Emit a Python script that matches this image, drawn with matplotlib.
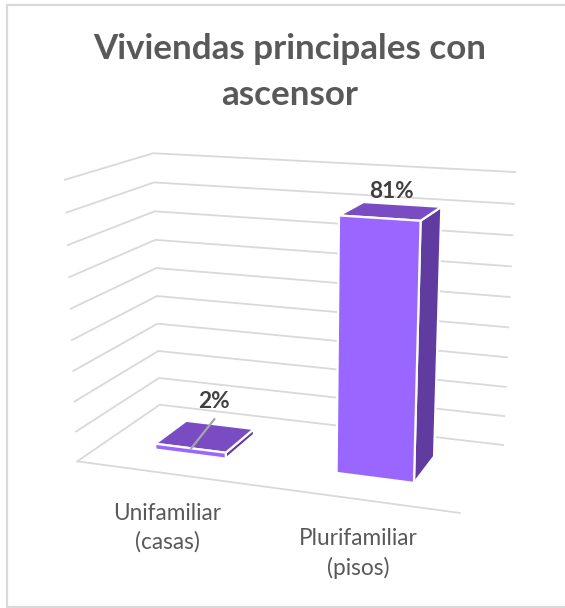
import numpy as np
import matplotlib
matplotlib.use("Agg")
import matplotlib.pyplot as plt
from matplotlib.patches import Polygon

categories = ["Unifamiliar\n(casas)", "Plurifamiliar\n(pisos)"]
values = [2, 81]
value_labels = ["2%", "81%"]
grid_values = [0, 10, 20, 30, 40, 50, 60, 70, 80, 90]
title = "Viviendas principales con\nascensor"

GREY = "#595959"
GRID = "#d9d9d9"
FRONT = "#9966ff"
TOP = "#7a4cc4"
SIDE = "#603ca0"
Z_MAX = 90
BAR_W = 0.2
Y0, Y1 = 0.3, 0.7

# camera fitted to the corners of the 3D box as they sit on the picture
world = [(0, 0, 0), (0, 1, 0), (1, 1, 0), (1, 0, 0), (0, 1, 1), (1, 1, 1), (0, 0, 1)]
screen = [(77, 461), (160, 405), (503, 445), (460, 513), (153, 153), (515, 172), (65, 180)]
rows, rhs = [], []
for (x, y, z), (u, v) in zip(world, screen):
    rows.append([x, y, z, 1, 0, 0, 0, 0, -u * x, -u * y, -u * z])
    rows.append([0, 0, 0, 0, x, y, z, 1, -v * x, -v * y, -v * z])
    rhs += [u, v]
cam = np.append(np.linalg.lstsq(np.array(rows, float), np.array(rhs, float), rcond=None)[0], 1).reshape(3, 4)


def project(x, y, value):
    p = cam @ np.array([x, y, value / Z_MAX, 1.0])
    return p[0] / p[2], p[1] / p[2]


fig = plt.figure(figsize=(5.65, 6.08), dpi=100)
ax = fig.add_axes([0, 0, 1, 1])
ax.set_xlim(0, 565)
ax.set_ylim(608, 0)
ax.axis("off")
plt.rcParams["font.family"] = ["Lato", "DejaVu Sans"]

# outer frame of the chart
ax.plot([565, 7, 7, 565], [5, 5, 606.5, 606.5], color=GRID, lw=1.6, solid_joinstyle="miter")

for g in grid_values:
    pts = [project(0, 0, g), project(0, 1, g), project(1, 1, g)]
    ax.plot(*zip(*pts), color=GRID, lw=1.3)
ax.plot(*zip(project(0, 0, 0), project(1, 0, 0)), color=GRID, lw=1.3)

for i, (cat, val, lab) in enumerate(zip(categories, values, value_labels)):
    cx = 0.25 + 0.5 * i
    x0, x1 = cx - BAR_W / 2, cx + BAR_W / 2
    side = [project(x1, Y0, 0), project(x1, Y1, 0), project(x1, Y1, val), project(x1, Y0, val)]
    top = [project(x0, Y0, val), project(x0, Y1, val), project(x1, Y1, val), project(x1, Y0, val)]
    front = [project(x0, Y0, 0), project(x1, Y0, 0), project(x1, Y0, val), project(x0, Y0, val)]
    for face, col in ((side, SIDE), (top, TOP), (front, FRONT)):
        ax.add_patch(Polygon(face, closed=True, facecolor=col, edgecolor="white", lw=1.6, zorder=3))

    tx, ty = project(cx, 0.5, val)
    if val < 10:
        # small bar: the label sits higher with a leader line down to the bar
        ax.plot([tx + 9, tx - 14], [ty - 17, ty + 12], color="#a6a6a6", lw=1.6, zorder=4)
        tx += 9
        ty -= 15
    ax.text(tx, ty - 20, lab, ha="center", va="center", fontsize=16.3, fontweight="bold",
            color="#404040", zorder=5)
    lx, ly = project(cx, 0, 0)
    ax.text(lx + 1, ly + 54.5, cat, ha="center", va="center", fontsize=16.3, color=GREY, linespacing=1.42)

ax.text(290, 72, title, ha="center", va="center", fontsize=25.2, fontweight="bold", color=GREY, linespacing=1.57)

fig.savefig("out.png", dpi=100)
